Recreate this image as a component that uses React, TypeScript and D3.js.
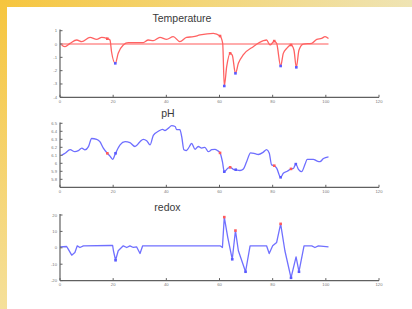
import React from 'react';
import * as d3 from 'd3';

type Pt = [number, number];

// x ticks shared by all three panels
const xTicks = [0, 20, 40, 60, 80, 100, 120];

// Temperature
const tempTicks = [1, 0, -1, -2, -3, -4];
const tempSeries: Pt[] = [
    [0.6, -0.07], [1.9, -0.2], [3.8, 0.05], [6.3, 0.3], [8.2, 0.18], [11.3, 0.5], [13.8, 0.35],
    [15.7, 0.5], [17.8, 0.4], [18.8, 0.3], [19.4, -0.6], [20.8, -1.45], [21.9, -0.7], [23.8, -0.07],
    [25.7, 0.1], [31.3, 0.1], [33.2, 0.3], [35.1, 0.25], [37.6, 0.5], [40.1, 0.35], [42.6, 0.55],
    [45.1, 0.18], [47.6, 0.5], [50.2, 0.55], [52.7, 0.68], [57.7, 0.8], [60.2, 0.6], [61.2, 0.05],
    [61.8, -3.15], [62.7, -1.7], [64, -0.7], [64.8, -0.83], [66, -2.2], [67.1, -1.45], [69, -0.8],
    [72.7, -0.2], [76.5, 0.25], [77.7, 0.3], [79, -0.07], [80.6, 0.22], [81.5, 0.05], [83, -1.65],
    [84, -0.7], [85.3, -0.33], [86.9, -0.07], [88, -0.45], [88.9, -1.75], [89.9, -0.45], [91.5, 0],
    [94.7, 0.05], [96.6, 0.35], [98.4, 0.42], [99.7, 0.55], [101, 0.42],
];
const tempRed: Pt[] = [[17.8, 0.4], [60.2, 0.6], [64, -0.7], [80.6, 0.22], [86.9, -0.07]];
const tempBlue: Pt[] = [[20.8, -1.45], [61.8, -3.15], [66, -2.2], [83, -1.65], [88.9, -1.75]];
const tempZero: Pt[] = [[0, 0], [101, 0]];

// pH
const phTicks = [6.5, 6.4, 6.3, 6.2, 6.1, 6, 5.9, 5.8];
const phSeries: Pt[] = [
    [0.6, 6.1], [1.9, 6.125], [3.8, 6.17], [5.6, 6.145], [6.9, 6.158], [8.2, 6.19], [9.4, 6.167],
    [10.7, 6.208], [11.9, 6.31], [13.8, 6.3], [15.0, 6.27], [16.3, 6.19], [17.8, 6.125], [18.8, 6.09],
    [19.8, 6.05], [20.9, 6.125], [22.6, 6.23], [24.5, 6.27], [26.3, 6.258], [28.2, 6.21], [30.1, 6.27],
    [31.3, 6.3], [32.6, 6.283], [33.9, 6.23], [35.1, 6.35], [37.0, 6.4], [38.6, 6.425], [39.5, 6.41],
    [40.8, 6.44], [42.0, 6.47], [43.3, 6.46], [43.9, 6.42], [45.1, 6.42], [45.8, 6.33], [46.6, 6.17],
    [47.6, 6.16], [48.7, 6.21], [49.5, 6.25], [50.8, 6.175], [52.0, 6.21], [53.3, 6.19], [54.5, 6.2],
    [55.8, 6.145], [57.1, 6.17], [58.3, 6.175], [59.2, 6.16], [60.2, 6.13], [61.1, 6.02], [61.8, 5.895],
    [63.1, 5.9375], [64.0, 5.95], [65.2, 5.925], [66.1, 5.92], [67.7, 5.91], [69.0, 5.93], [70.2, 6.02],
    [71.7, 6.13], [73.4, 6.12], [74.6, 6.11], [76.5, 6.14], [77.7, 6.17], [78.7, 6.13], [79.6, 5.98],
    [80.6, 5.97], [81.5, 5.94], [83.0, 5.825], [84.0, 5.875], [85.5, 5.9], [86.9, 5.93], [87.8, 5.935],
    [88.7, 5.99], [89.7, 5.925], [90.9, 5.895], [92.2, 5.99], [93.0, 6.05], [95.3, 6.05], [96.6, 6.03],
    [97.8, 6.02], [99.1, 6.06], [101, 6.08],
];
const phRed: Pt[] = [[17.8, 6.125], [60.2, 6.13], [64.0, 5.95], [80.6, 5.97], [86.9, 5.93]];
const phBlue: Pt[] = [[20.9, 6.125], [61.8, 5.895], [66.1, 5.92], [83.0, 5.825], [88.7, 5.99]];

// redox
const redoxTicks = [20, 10, 0, -10, -20];
const redoxSeries: Pt[] = [
    [0, 0.6], [2.5, 0.8], [3.1, -0.8], [4.4, -4.5], [5.6, -2.9], [6.5, 1.2], [7.5, 0.2], [8.8, 1.2],
    [18.8, 1.4], [19.8, 1.4], [20.1, -1.8], [20.9, -7.6], [21.9, -1.8], [23.8, 1.2], [25.1, 0.2],
    [26.3, 1.2], [27.6, 0.2], [28.8, 0.6], [30.1, -3.5], [31.1, 1.2], [60.2, 1.2], [61.1, 0.2],
    [61.8, 18.7], [63.1, 6.4], [64.8, -7], [66.0, 10.5], [67.1, -1.8], [69.8, -14.6], [71.5, 1.2],
    [77.7, 1.2], [78.7, -3.5], [80.0, 1.2], [81.5, 3.3], [83.0, 14.6], [84.6, -1.8], [86.9, -18.3],
    [88.8, -5.5], [89.9, -14.6], [91.8, 1.2], [94.7, 1.2], [95.9, 0.2], [97.2, 1.2], [101, 0.6],
];
const redoxRed: Pt[] = [[61.8, 18.7], [66.0, 10.5], [83.0, 14.6]];
const redoxBlue: Pt[] = [[20.9, -7.6], [64.8, -7], [69.8, -14.6], [86.9, -18.3], [89.9, -14.6]];

const W = 412;
const H = 309;
const axisColor = '#606060';
const font = 'Liberation Sans, Arial, sans-serif';

const x = d3.scaleLinear().domain([0, 120]).range([60, 379]);

type PanelProps = {
    title: string;
    titleX: number;
    titleY: number;
    y: d3.ScaleLinear<number, number>;
    yTicks: number[];
    top: number;
    series: Pt[];
    color: string;
    curve: d3.CurveFactory;
    red: Pt[];
    blue: Pt[];
    extra?: Pt[];
};

const Panel = ({ title, titleX, titleY, y, yTicks, top, series, color, curve, red, blue, extra }: PanelProps) => {
    const line = d3.line<Pt>().x(d => x(d[0])).y(d => y(d[1])).curve(curve);
    const bottom = y.range()[0];
    return (
        <g>
            <text x={titleX} y={titleY} textAnchor="middle" fontSize={10.5} fill="#3a3a3a" fontFamily={font}>{title}</text>
            {extra && <path d={d3.line<Pt>().x(d => x(d[0])).y(d => y(d[1]))(extra) || ''} stroke="#ff9090" strokeWidth={1.6} fill="none" />}
            <path d={line(series) || ''} stroke={color} strokeWidth={1.3} fill="none" strokeLinejoin="round" />
            {red.map((d, i) => (
                <rect key={'r' + i} x={x(d[0]) - 1.3} y={y(d[1]) - 1.3} width={2.6} height={2.6} fill="#ff5a5a" />
            ))}
            {blue.map((d, i) => (
                <rect key={'b' + i} x={x(d[0]) - 1.3} y={y(d[1]) - 1.3} width={2.6} height={2.6} fill="#5a5aff" />
            ))}
            <line x1={x(0)} x2={x(0)} y1={top} y2={bottom} stroke={axisColor} strokeWidth={1.2} />
            <line x1={x(0)} x2={x(120)} y1={bottom} y2={bottom} stroke={axisColor} strokeWidth={1.2} />
            {yTicks.map(t => (
                <g key={'y' + t}>
                    <line x1={x(0)} x2={x(0) + 2.5} y1={y(t)} y2={y(t)} stroke={axisColor} strokeWidth={1} />
                    <text x={x(0) - 3} y={y(t) + 1.5} textAnchor="end" fontSize={4.2} fill="#777" fontFamily={font}>{t}</text>
                </g>
            ))}
            {xTicks.map(t => (
                <g key={'x' + t}>
                    <line x1={x(t)} x2={x(t)} y1={bottom} y2={bottom - 2.5} stroke={axisColor} strokeWidth={1} />
                    <text x={x(t)} y={bottom + 5.5} textAnchor="middle" fontSize={4.2} fill="#777" fontFamily={font}>{t}</text>
                </g>
            ))}
        </g>
    );
};

const App = () => {
    const yTemp = d3.scaleLinear().domain([-4, 1]).range([97.3, 30.7]);
    const yPh = d3.scaleLinear().domain([5.7, 6.5]).range([187.3, 123.3]);
    const yRedox = d3.scaleLinear().domain([-20, 20]).range([280.6, 215]);

    return (
        <svg width={W} height={H} style={{ position: 'absolute', left: 0, top: 0 }}>
            <defs>
                <linearGradient id="topBand" x1="0" x2="1" y1="0" y2="0">
                    <stop offset="0" stopColor="#f6c53e" />
                    <stop offset="0.5" stopColor="#f3d67a" />
                    <stop offset="1" stopColor="#efe4b4" />
                </linearGradient>
                <linearGradient id="leftBand" x1="0" x2="0" y1="0" y2="1">
                    <stop offset="0" stopColor="#f6c53e" />
                    <stop offset="1" stopColor="#f5e09a" />
                </linearGradient>
            </defs>
            <rect x={0} y={0} width={W} height={H} fill="#ffffff" />
            <rect x={0} y={0} width={W} height={7} fill="url(#topBand)" />
            <rect x={0} y={0} width={7} height={H} fill="url(#leftBand)" />
            <Panel title="Temperature" titleX={182} titleY={21.5} y={yTemp} yTicks={tempTicks} top={29.5}
                series={tempSeries} color="#ff6262" curve={d3.curveMonotoneX} red={tempRed} blue={tempBlue} extra={tempZero} />
            <Panel title="pH" titleX={168} titleY={116.5} y={yPh} yTicks={phTicks} top={122.5}
                series={phSeries} color="#6e6eff" curve={d3.curveMonotoneX} red={phRed} blue={phBlue} />
            <Panel title="redox" titleX={167.5} titleY={211} y={yRedox} yTicks={redoxTicks} top={214}
                series={redoxSeries} color="#7070ff" curve={d3.curveLinear} red={redoxRed} blue={redoxBlue} />
        </svg>
    );
};

export default App;
